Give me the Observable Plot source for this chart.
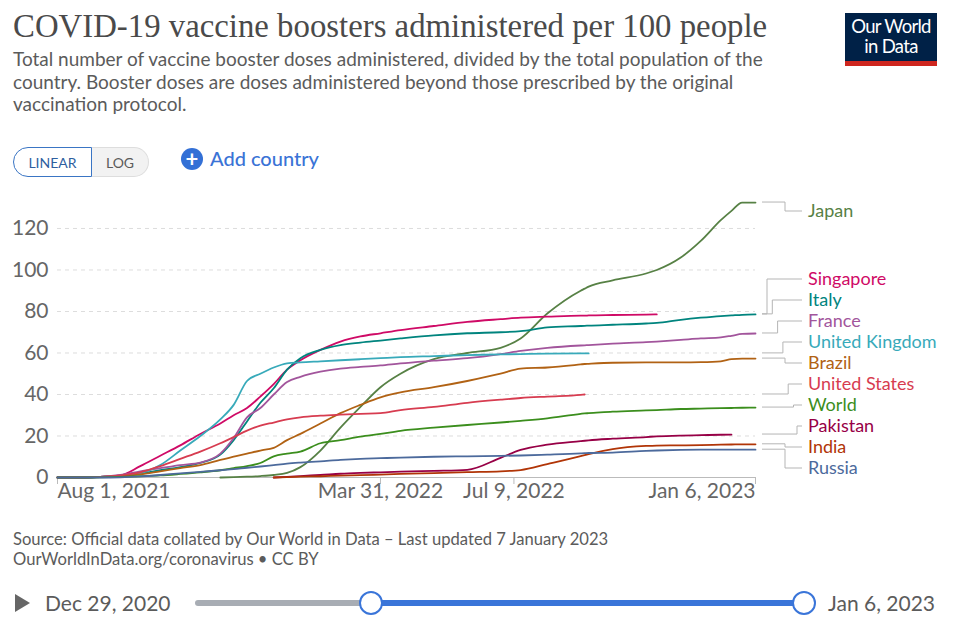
<!DOCTYPE html>
<html><head><meta charset="utf-8">
<script src="https://cdn.jsdelivr.net/npm/d3@7"></script>
<script src="https://cdn.jsdelivr.net/npm/@observablehq/plot@0.6"></script>
<style>
body{margin:0;width:957px;height:624px;position:relative;background:#fff;font-family:Lato,sans-serif;overflow:hidden}
#title{position:absolute;left:13px;top:7px;font-family:"Liberation Serif",serif;font-size:32.8px;line-height:38px;color:#4a4a4a;white-space:nowrap}
#subtitle{position:absolute;left:13px;top:48px;font-size:19px;line-height:22.5px;color:#5b5b5b;white-space:nowrap}
#logo{position:absolute;left:845px;top:13px;width:92px;height:53px;background:#002147;border-bottom:5px solid #ce261e;box-sizing:border-box;color:#fff;text-align:center;font-size:18.5px;line-height:20px;padding-top:3px;letter-spacing:-0.7px}
#toggle{position:absolute;left:13px;top:147px;height:30px;display:flex;font-size:14px}
#lin{width:77px;height:28px;border:1px solid #3a75c4;border-radius:15px 0 0 15px;color:#2f5f9f;display:flex;align-items:center;justify-content:center;background:#fff}
#log{width:56px;height:28px;border:1px solid #ddd;border-left:none;border-radius:0 15px 15px 0;color:#5b5b5b;display:flex;align-items:center;justify-content:center;background:#f2f2f2}
#addicon{position:absolute;left:181px;top:148px;width:22px;height:22px;border-radius:50%;background:#3370d6;color:#fff;font-size:22px;line-height:22px;text-align:center;font-weight:700}
#addtext{position:absolute;left:210px;top:146px;font-size:20px;line-height:24px;color:#3a73d6;font-weight:500}
#chart{position:absolute;left:0;top:190px}
#source{position:absolute;left:13px;top:530px;font-size:16.6px;line-height:19.5px;color:#5b5b5b;white-space:nowrap}
#play{position:absolute;left:15px;top:594px;width:0;height:0;border-left:15px solid #666;border-top:9px solid transparent;border-bottom:9px solid transparent}
.tl{position:absolute;top:589px;font-size:21px;line-height:28px;color:#5b5b5b;white-space:nowrap}
#track1{position:absolute;left:195px;top:600px;width:175px;height:6px;background:#a8adb4;border-radius:3px}
#track2{position:absolute;left:370px;top:600px;width:433px;height:6px;background:#3a75d9}
.handle{position:absolute;top:591px;width:20px;height:20px;border-radius:50%;border:2px solid #3a75d9;background:#fff}
</style></head>
<body>
<div id="title">COVID-19 vaccine boosters administered per 100 people</div>
<div id="subtitle">Total number of vaccine booster doses administered, divided by the total population of the<br>country. Booster doses are doses administered beyond those prescribed by the original<br>vaccination protocol.</div>
<div id="logo">Our World<br>in Data</div>
<div id="toggle"><div id="lin">LINEAR</div><div id="log">LOG</div></div>
<div id="addicon">+</div>
<div id="addtext">Add country</div>
<div id="chart"></div>
<div id="source">Source: Official data collated by Our World in Data – Last updated 7 January 2023<br>OurWorldInData.org/coronavirus • CC BY</div>
<div id="play"></div>
<div class="tl" style="left:45px">Dec 29, 2020</div>
<div id="track1"></div><div id="track2"></div>
<div class="handle" style="left:359px"></div>
<div class="handle" style="left:792px"></div>
<div class="tl" style="left:828px">Jan 6, 2023</div>
<script>
const dates = ["2021-08-01","2021-08-18","2021-09-02","2021-09-17","2021-10-02","2021-10-17","2021-11-01","2021-11-16","2021-12-01","2021-12-11","2021-12-21","2021-12-31","2022-01-10","2022-01-20","2022-01-30","2022-02-14","2022-03-01","2022-03-16","2022-03-31","2022-04-15","2022-05-10","2022-06-04","2022-06-29","2022-07-14","2022-08-03","2022-08-28","2022-08-31","2022-09-03","2022-09-21","2022-10-16","2022-10-24","2022-11-11","2022-11-26","2022-12-11","2022-12-19","2022-12-27","2023-01-06"];

const japan = [null,null,null,null,null,null,null,null,0,0.2,0.4,0.7,1.2,2.2,5,13,24,34,43.5,50,57,60,62.5,67,79,90,91,92,95,98.3,100,106,114,124,128.5,132.5,132.5];
const singapore = [0,0,0.3,1,5.5,10.5,15.5,21,26,30,33.5,39,45,52,56.5,61.5,65.5,68,69.5,71,73,75,76.3,77,77.5,78,78,78.1,78.3,78.5,78.6,null,null,null,null,null,null];
const italy = [0,0,0.3,0.8,2,3.5,5,7,11,18,27,36,43,52,57.5,61.5,63.8,65,66,67,68.5,69.5,70,70.5,72.3,73,73.1,73.2,73.6,74.2,74.5,76,77,77.8,78.1,78.4,78.6];
const france = [0,0,0.3,1.2,3,4.5,6,7.2,11.5,19,29,33.5,40,46,48.5,51,52.5,53.3,54,55,56.3,57.5,59.5,61,62.5,63.6,63.7,63.8,64.5,65.2,65.5,66.3,67,67.5,68.3,69.2,69.4];
const unitedKingdom = [0,0,0.3,0.8,2,6,13,20,28,35,46.5,50,53,55,55.5,56,56.5,57,57.5,58,58.5,59,59.3,59.5,59.7,59.8,59.8,59.8,null,null,null,null,null,null,null,null,null];
const brazil = [0,0,0.2,0.6,1.5,3,4.5,6,8.5,10,11.5,13,14.3,18,21,26,31,35,38.6,41,43.5,46.5,50,52.5,53,54.5,54.7,54.8,55.3,55.5,55.5,55.5,55.6,56,57,57.3,57.3];
const unitedStates = [0,0,0.3,1,2.5,5.5,9,12.5,16.5,19.5,22.6,25,26.5,28,29,29.8,30.3,30.7,31,32.5,34,36,37.5,38.3,39,39.8,40,null,null,null,null,null,null,null,null,null,null];
const world = [0,0,0.1,0.3,0.6,1,1.7,2.5,3.5,4.5,5.5,7,10.2,11.5,12.5,16.5,18,19.7,21,22.5,24,25.3,26.5,27.3,28.5,30.7,30.9,31,31.7,32.3,32.5,33,33.2,33.4,33.5,33.6,33.7];
const pakistan = [null,null,null,null,null,null,null,null,null,null,null,null,0,0.3,0.7,1.2,1.8,2.2,2.5,2.8,3.2,3.7,9.5,13.3,15.8,17.5,17.7,17.9,18.7,19.5,19.8,20.2,20.4,20.6,20.7,null,null];
const india = [null,null,null,null,null,null,null,null,null,null,null,null,0,0.2,0.4,0.6,0.9,1.1,1.4,1.7,2.1,2.6,3,3.6,6.5,10.3,10.8,11.3,13.7,15.2,15.4,15.5,15.6,15.8,15.9,16,16];
const russia = [0,0,0,0.1,0.5,1.2,2,2.7,3.5,4,4.7,5.3,6,6.7,7.2,7.8,8.5,9,9.3,9.6,10,10.2,10.4,10.6,11,11.6,11.7,11.8,12,12.8,13,13.3,13.4,13.4,13.4,13.4,13.4];

const countries = ["Japan","Singapore","Italy","France","United Kingdom","Brazil","United States","World","Pakistan","India","Russia"];
const colors = ["#578145","#CF0A66","#00847E","#A2559C","#38AABA","#B16214","#D73C50","#3B8E1D","#970046","#B13507","#4C6A9C"];
const yTicks = [0,20,40,60,80,100,120];
const xTicks = ["2021-08-01","2022-03-31","2022-07-09","2023-01-06"];

const seriesByCountry = {"Japan":japan,"Singapore":singapore,"Italy":italy,"France":france,"United Kingdom":unitedKingdom,"Brazil":brazil,"United States":unitedStates,"World":world,"Pakistan":pakistan,"India":india,"Russia":russia};

const parse = d3.utcParse("%Y-%m-%d");
const fmt = d3.utcFormat("%b %-d, %Y");
const rows = [];
for (const c of countries) {
  seriesByCountry[c].forEach((v, i) => { if (v != null) rows.push({date: parse(dates[i]), value: v, country: c}); });
}
const xTickDates = xTicks.map(parse);
const yMax = 133;

const textOpts = {x: d => d, text: d => fmt(d), frameAnchor: "bottom", dy: 20, fontSize: 21, fill: "#666"};
const chart = Plot.plot({
  width: 957, height: 330,
  marginLeft: 57, marginRight: 202, marginTop: 11, marginBottom: 43,
  style: {fontFamily: "Lato, sans-serif", fontSize: "21px", color: "#666", overflow: "visible", background: "transparent"},
  x: {type: "utc", domain: [parse(dates[0]), parse(dates[dates.length - 1])]},
  y: {domain: [0, yMax]},
  color: {domain: countries, range: colors},
  marks: [
    Plot.gridY(yTicks.slice(1), {stroke: "#ddd", strokeOpacity: 1, strokeDasharray: "4,4"}),
    Plot.axisY(yTicks, {tickSize: 0, tickPadding: 9, label: null, fontSize: 21, fill: "#666"}),
    Plot.axisX(xTickDates, {tickSize: 7, stroke: "#bbb", tickFormat: () => "", label: null}),
    Plot.ruleY([0], {stroke: "#bbb"}),
    Plot.text(xTickDates.slice(0, 1), {...textOpts, textAnchor: "start"}),
    Plot.text(xTickDates.slice(1, -1), {...textOpts, textAnchor: "middle"}),
    Plot.text(xTickDates.slice(-1), {...textOpts, textAnchor: "end"}),
    Plot.line(rows, {x: "date", y: "value", z: "country", stroke: "country", strokeWidth: 1.8, curve: "monotone-x"})
  ]
});
document.getElementById("chart").appendChild(chart);

// end labels with leader lines, positioned through the plot's scales
const xs = chart.scale("x"), ys = chart.scale("y");
const xr = xs.apply(parse(dates[dates.length - 1]));
const frameTop = ys.apply(yMax), frameBottom = ys.apply(0);
const minY = frameTop + 10, maxY = frameBottom - 9, gap = 21;
const items = countries.map((c, i) => {
  const arr = seriesByCountry[c];
  let last = null;
  for (const v of arr) if (v != null) last = v;
  const endY = ys.apply(last);
  return {c, color: colors[i], endY, y: Math.max(minY, Math.min(maxY, endY))};
});
const sorted = items.slice().sort((a, b) => a.endY - b.endY);
for (let i = 1; i < sorted.length; i++) if (sorted[i].y < sorted[i-1].y + gap) sorted[i].y = sorted[i-1].y + gap;
if (sorted[sorted.length-1].y > maxY) sorted[sorted.length-1].y = maxY;
for (let i = sorted.length - 2; i >= 0; i--) if (sorted[i].y > sorted[i+1].y - gap) sorted[i].y = sorted[i+1].y - gap;
for (let i = 0; i < sorted.length; i++) if (sorted[i].y < minY) sorted[i].y = minY;

const g = d3.select(chart).append("g").attr("text-anchor", "start");
let k = 0;
for (const it of sorted) {
  let elbow;
  if (it.y < it.endY - 0.5) { elbow = Math.min(xr + 12 + 5.3 * k, xr + 42); k++; }
  else elbow = xr + 30;
  g.append("path")
    .attr("d", `M${xr + 7},${it.endY}H${elbow}V${it.y}H${xr + 47}`)
    .attr("fill", "none").attr("stroke", "#b5b5b5").attr("stroke-width", 1);
  g.append("text")
    .attr("x", xr + 53).attr("y", it.y).attr("dy", "0.35em")
    .attr("text-anchor", "start")
    .attr("fill", it.color).attr("font-size", 18)
    .text(it.c);
}
</script>
</body></html>
